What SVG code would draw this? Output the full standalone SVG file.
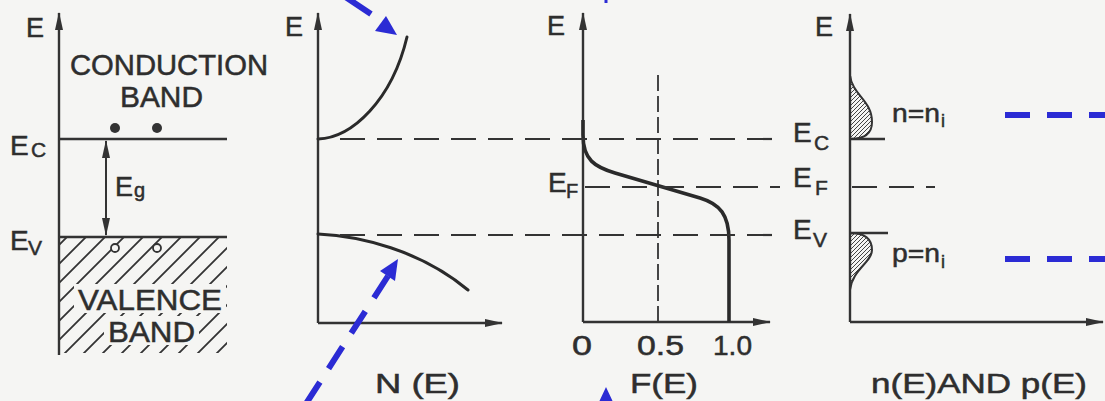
<svg xmlns="http://www.w3.org/2000/svg" width="1105" height="401" viewBox="0 0 1105 401">
<style>
.t{font-family:"Liberation Sans",Arial,sans-serif;fill:#2e2e2e;stroke:#2e2e2e;stroke-width:0.5;}
.ax{stroke:#333;stroke-width:2.4;fill:none;}
.dl{stroke:#333;stroke-width:2.2;fill:none;stroke-dasharray:25 12;}
.cv{stroke:#2a2a2a;stroke-width:3;fill:none;stroke-linecap:round;}
.bl{stroke:#2b2bd4;stroke-width:6;fill:none;}
</style>
<defs>
<marker id="ah" viewBox="0 0 18 8" refX="17" refY="4" markerWidth="18" markerHeight="8" orient="auto-start-reverse" markerUnits="userSpaceOnUse"><path d="M0,0 L18,4 L0,8 Z" fill="#333"/></marker>
<pattern id="hatch" patternUnits="userSpaceOnUse" width="19" height="19"><path d="M0,19 L19,0 M-5,5 L5,-5 M14,24 L24,14" stroke="#333" stroke-width="1.8"/></pattern>
<pattern id="fine" patternUnits="userSpaceOnUse" width="4" height="4"><path d="M0,4 L4,0 M-1,1 L1,-1 M3,5 L5,3" stroke="#444" stroke-width="1"/></pattern>
</defs>
<rect width="1105" height="401" fill="#f5f5f3"/>

<g id="panel-band">
<rect x="59" y="237" width="168" height="116" fill="url(#hatch)"/>
<rect x="74" y="284" width="152" height="29" fill="#f5f5f3"/>
<rect x="104" y="316" width="95" height="29" fill="#f5f5f3"/>
<line class="ax" x1="59" y1="355" x2="59" y2="13" marker-end="url(#ah)"/>
<line class="ax" x1="59" y1="139" x2="227" y2="139"/>
<line class="ax" x1="59" y1="237" x2="227" y2="237"/>
<line stroke="#333" stroke-width="2" x1="106" y1="141" x2="106" y2="235" marker-start="url(#ah)" marker-end="url(#ah)"/>
<circle cx="115" cy="128" r="5" fill="#333"/>
<circle cx="157" cy="128" r="5" fill="#333"/>
<circle cx="115" cy="248" r="4" fill="#f5f5f3" stroke="#333" stroke-width="1.8"/>
<circle cx="157" cy="248" r="4" fill="#f5f5f3" stroke="#333" stroke-width="1.8"/>
<text class="t" x="26" y="37" font-size="27">E</text>
<text class="t" x="70" y="75" font-size="29" textLength="198" lengthAdjust="spacingAndGlyphs">CONDUCTION</text>
<text class="t" x="120" y="107" font-size="29" textLength="83" lengthAdjust="spacingAndGlyphs">BAND</text>
<text class="t" x="10" y="155" font-size="28">E</text>
<text class="t" x="31" y="157" font-size="21">C</text>
<text class="t" x="115" y="196" font-size="27">E</text>
<text class="t" x="134" y="197" font-size="20">g</text>
<text class="t" x="10" y="250" font-size="28">E</text>
<text class="t" x="28" y="255" font-size="21">V</text>
<text class="t" x="78" y="310" font-size="30" textLength="144" lengthAdjust="spacingAndGlyphs">VALENCE</text>
<text class="t" x="108" y="342" font-size="30" textLength="87" lengthAdjust="spacingAndGlyphs">BAND</text>
</g>

<g id="panel-dos">
<line class="ax" x1="318" y1="323" x2="318" y2="13" marker-end="url(#ah)"/>
<line class="ax" x1="318" y1="323" x2="502" y2="323" marker-end="url(#ah)"/>
<path class="cv" d="M318,139 C352,138 392,100 407,37"/>
<path class="cv" d="M318,234 C360,236 420,250 468,290"/>
<text class="t" x="285" y="36" font-size="27">E</text>
<text class="t" x="375" y="393" font-size="28" textLength="85" lengthAdjust="spacingAndGlyphs">N (E)</text>
</g>

<g id="panel-fermi">
<line class="ax" x1="583" y1="322" x2="583" y2="13" marker-end="url(#ah)"/>
<line class="ax" x1="583" y1="322" x2="770" y2="322" marker-end="url(#ah)"/>
<line stroke="#333" stroke-width="1.8" stroke-dasharray="16 5" x1="658" y1="75" x2="658" y2="322"/>
<path d="M583,120 L583,135 C583,160 595,167 615,173 L700,198 C720,204 729,215 729,240 L729,322" stroke="#2a2a2a" stroke-width="3.6" fill="none"/>
<text class="t" x="547" y="35" font-size="27">E</text>
<text class="t" x="548" y="192" font-size="28">E</text>
<text class="t" x="566" y="198" font-size="20">F</text>
<text class="t" x="793" y="142" font-size="28">E</text>
<text class="t" x="814" y="150" font-size="21">C</text>
<text class="t" x="793" y="187" font-size="28">E</text>
<text class="t" x="815" y="195" font-size="21">F</text>
<text class="t" x="793" y="239" font-size="28">E</text>
<text class="t" x="813" y="247" font-size="21">V</text>
<text class="t" x="572" y="355" font-size="27" textLength="20" lengthAdjust="spacingAndGlyphs">0</text>
<text class="t" x="637" y="355" font-size="27" textLength="47" lengthAdjust="spacingAndGlyphs">0.5</text>
<text class="t" x="713" y="355" font-size="27" textLength="39" lengthAdjust="spacingAndGlyphs">1.0</text>
<text class="t" x="630" y="393" font-size="28" textLength="68" lengthAdjust="spacingAndGlyphs">F(E)</text>
</g>

<g id="panel-carriers">
<path d="M850,75 C852,95 872,100 872,122 C872,133 866,139 850,139 Z" fill="url(#fine)" stroke="#333" stroke-width="2"/>
<path d="M850,233 C866,233 872,240 872,250 C872,262 852,270 850,290 Z" fill="url(#fine)" stroke="#333" stroke-width="2"/>
<line class="ax" x1="850" y1="322" x2="850" y2="14" marker-end="url(#ah)"/>
<line class="ax" x1="850" y1="322" x2="1103" y2="322" marker-end="url(#ah)"/>
<line class="ax" x1="850" y1="139" x2="885" y2="139"/>
<line class="ax" x1="850" y1="233" x2="888" y2="233"/>
<line class="dl" x1="852" y1="187" x2="935" y2="187"/>
<text class="t" x="815" y="36" font-size="27">E</text>
<text class="t" x="892" y="122" font-size="26" textLength="48" lengthAdjust="spacingAndGlyphs">n=n</text>
<text class="t" x="941" y="127" font-size="18">i</text>
<text class="t" x="892" y="262" font-size="26" textLength="48" lengthAdjust="spacingAndGlyphs">p=n</text>
<text class="t" x="941" y="268" font-size="18">i</text>
<text class="t" x="871" y="393" font-size="27" textLength="216" lengthAdjust="spacingAndGlyphs">n(E)AND p(E)</text>
</g>

<g id="connectors">
<line class="dl" x1="340" y1="139" x2="780" y2="139"/>
<line class="dl" x1="340" y1="235" x2="780" y2="235"/>
<line class="dl" x1="585" y1="187" x2="780" y2="187"/>
<line class="bl" x1="338" y1="-8" x2="371" y2="14"/>
<polygon points="397,35 375,31 386,16" fill="#2b2bd4"/>
<line class="bl" x1="388" y1="276" x2="300" y2="413" stroke-dasharray="26 16"/>
<polygon points="398,259 380,271 395,281" fill="#2b2bd4"/>
<polygon points="606,387 599,402 613,402" fill="#2b2bd4"/>
<line stroke="#2b2bd4" stroke-width="3" x1="606" y1="-2" x2="606" y2="3"/>
<line class="bl" x1="1005" y1="115" x2="1110" y2="115" stroke-dasharray="25 17"/>
<line class="bl" x1="1005" y1="259" x2="1110" y2="259" stroke-dasharray="25 17"/>
</g>
</svg>
